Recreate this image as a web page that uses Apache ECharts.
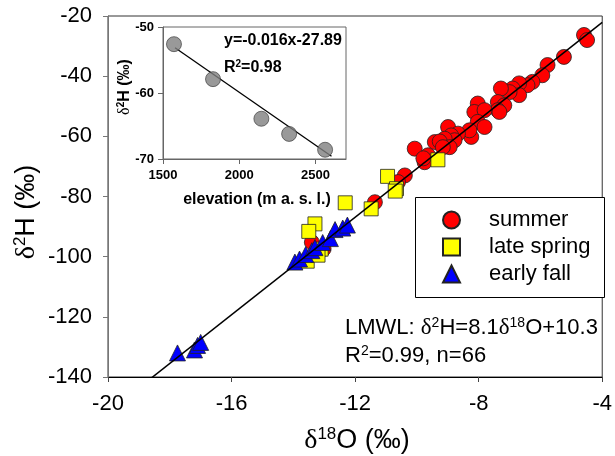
<!DOCTYPE html>
<html>
<head>
<meta charset="utf-8">
<script src="https://cdn.jsdelivr.net/npm/echarts@6/dist/echarts.min.js"></script>
<style>
  html, body { margin: 0; padding: 0; background: #fff; }
  #chart { width: 615px; height: 456px; }
</style>
</head>
<body>
<div id="chart"></div>
<script>
// δ18O / δ2H pairs (‰) by sampling season
const summer = [
  [-4.59, -26.3], [-4.49, -28.0], [-5.24, -33.6], [-5.77, -36.3], [-5.94, -39.7],
  [-6.26, -41.9], [-6.42, -43.0], [-6.69, -42.4], [-6.90, -44.1], [-6.69, -46.3],
  [-7.00, -45.3], [-7.28, -44.1], [-7.38, -48.6], [-7.17, -49.7], [-7.38, -51.3],
  [-7.33, -51.9], [-8.03, -49.1], [-8.14, -51.9], [-7.81, -51.3], [-8.03, -55.2],
  [-7.81, -56.9], [-8.24, -60.2], [-8.30, -58.0], [-8.99, -56.9], [-8.67, -59.1],
  [-8.89, -59.7], [-8.78, -61.3], [-9.42, -61.9], [-9.10, -60.8], [-9.26, -61.7],
  [-8.94, -63.6], [-9.16, -63.6], [-10.07, -64.1], [-9.64, -66.3], [-9.75, -68.6],
  [-9.79, -67.3], [-10.39, -73.0], [-10.61, -75.2], [-11.36, -81.9], [-13.40, -95.2],
  [-13.02, -97.4]
];
const lateSpring = [
  [-12.32, -82.1], [-11.48, -84.1], [-10.95, -73.3], [-10.66, -77.4], [-10.70, -78.2],
  [-9.32, -67.8], [-13.30, -89.1], [-13.50, -91.6], [-13.10, -97.5], [-13.55, -101.5],
  [-13.20, -99.5]
];
const earlyFall = [
  [-17.75, -132.0], [-17.20, -131.0], [-17.10, -129.5], [-17.00, -128.5],
  [-13.95, -101.8], [-13.80, -100.8], [-13.60, -99.3], [-13.40, -98.0], [-13.30, -97.0],
  [-13.05, -95.3], [-12.80, -94.0], [-12.65, -91.0], [-12.40, -90.5], [-12.25, -89.5]
];

// Local meteoric water line: δ2H = 8.1 δ18O + 10.3
const LMWL_SLOPE = 8.1;
const LMWL_INTERCEPT = 10.3;
const LMWL_DOMAIN = [-18.7, -4.0];

// Inset: δ2H against sampling elevation
const elevation = [1572, 1828, 2145, 2327, 2563];
const elevationD2H = [-52.6, -57.9, -63.9, -66.2, -68.6];
const ELEV_SLOPE = -0.016;
const ELEV_INTERCEPT = -27.89;
const ELEV_DOMAIN = [1579, 2605];
const elevationTicks = [1500, 2000, 2500];

const SANS = '"Liberation Sans", Arial, sans-serif';
const SERIF = '"Liberation Serif", "Times New Roman", serif';

const lmwlLine = LMWL_DOMAIN.map(x => [x, LMWL_SLOPE * x + LMWL_INTERCEPT]);
const elevLine = ELEV_DOMAIN.map(x => [x, ELEV_SLOPE * x + ELEV_INTERCEPT]);
const elevPoints = elevation.map((e, i) => [e, elevationD2H[i]]);

const chart = echarts.init(document.getElementById('chart'), null, { renderer: 'canvas' });

const markBorder = { borderColor: '#222', borderWidth: 0.8 };

chart.setOption({
  animation: false,
  backgroundColor: '#fff',
  textStyle: { fontFamily: SANS },
  grid: [
    { left: 108, top: 16, width: 497, height: 361, show: true, borderColor: '#333', borderWidth: 1, backgroundColor: 'transparent' },
    { left: 163, top: 27, width: 183, height: 132, show: true, borderColor: '#666', borderWidth: 1, backgroundColor: '#fff' }
  ],
  xAxis: [
    {
      gridIndex: 0, type: 'value', min: -20, max: -4, interval: 4,
      axisLine: { show: true, onZero: false, lineStyle: { color: '#000', width: 1 } },
      axisTick: { show: true, length: 5, lineStyle: { color: '#444' } },
      axisLabel: { fontSize: 22, color: '#000', margin: 16, fontFamily: SANS },
      splitLine: { show: false }
    },
    {
      gridIndex: 1, type: 'value', min: 1500, max: 2700, interval: 500,
      axisLine: { show: true, onZero: false, lineStyle: { color: '#666', width: 1 } },
      axisTick: { show: true, length: 5, customValues: elevationTicks, lineStyle: { color: '#666' } },
      axisLabel: {
        customValues: elevationTicks, fontSize: 13, fontWeight: 'bold', color: '#000', margin: 10, fontFamily: SANS,
        formatter: v => String(v)
      },
      splitLine: { show: false }
    }
  ],
  yAxis: [
    {
      gridIndex: 0, type: 'value', min: -140, max: -20, interval: 20,
      axisLine: { show: true, onZero: false, lineStyle: { color: '#777', width: 1 } },
      axisTick: { show: true, length: 5, lineStyle: { color: '#777' } },
      axisLabel: { fontSize: 22, color: '#000', margin: 16, fontFamily: SANS },
      splitLine: { show: false }
    },
    {
      gridIndex: 1, type: 'value', min: -70, max: -50, interval: 10,
      axisLine: { show: true, onZero: false, lineStyle: { color: '#666', width: 1 } },
      axisTick: { show: true, length: 5, lineStyle: { color: '#666' } },
      axisLabel: { fontSize: 13, fontWeight: 'bold', color: '#000', margin: 9, fontFamily: SANS },
      splitLine: { show: false }
    }
  ],
  legend: {
    data: ['summer', 'late spring', 'early fall'],
    orient: 'vertical',
    left: 442,
    top: 209,
    padding: 0,
    itemGap: 5,
    itemWidth: 17,
    itemHeight: 17,
    textStyle: { fontSize: 22, color: '#000', fontFamily: SANS, padding: [0, 0, 0, 24] }
  },
  series: [
    {
      name: 'summer', type: 'scatter', xAxisIndex: 0, yAxisIndex: 0,
      symbol: 'circle', symbolSize: 15, data: summer,
      itemStyle: Object.assign({ color: '#ff0000', opacity: 1 }, markBorder), z: 2
    },
    {
      name: 'late spring', type: 'scatter', xAxisIndex: 0, yAxisIndex: 0,
      symbol: 'rect', symbolSize: 14, data: lateSpring,
      itemStyle: Object.assign({ color: '#ffff00', opacity: 1 }, markBorder), z: 3
    },
    {
      name: 'early fall', type: 'scatter', xAxisIndex: 0, yAxisIndex: 0,
      symbol: 'triangle', symbolSize: 16, data: earlyFall,
      itemStyle: Object.assign({ color: '#0000ff', opacity: 1 }, markBorder), z: 4
    },
    {
      name: 'LMWL', type: 'line', xAxisIndex: 0, yAxisIndex: 0,
      data: lmwlLine, symbol: 'none', clip: true,
      lineStyle: { color: '#000', width: 1.5 }, z: 5, silent: true
    },
    {
      name: 'elevation', type: 'scatter', xAxisIndex: 1, yAxisIndex: 1,
      symbol: 'circle', symbolSize: 15, data: elevPoints,
      itemStyle: { color: '#808080', borderColor: '#333', borderWidth: 0.8 }, z: 6
    },
    {
      name: 'elevation fit', type: 'line', xAxisIndex: 1, yAxisIndex: 1,
      data: elevLine, symbol: 'none', clip: true,
      lineStyle: { color: '#000', width: 1.3 }, z: 5, silent: true
    }
  ],
  graphic: [
    // legend frame
    {
      type: 'rect', z: 1, silent: true,
      shape: { x: 415.5, y: 197.5, width: 189, height: 100 },
      style: { fill: '#fff', stroke: '#000', lineWidth: 1 }
    },
    // main x-axis title
    {
      type: 'text', x: 357, y: 441, silent: true,
      style: {
        text: '{d|δ}{s|18}{n|O (‰)}', align: 'center', verticalAlign: 'middle',
        rich: {
          d: { fontFamily: SERIF, fontSize: 28, lineHeight: 30, fill: '#000' },
          s: { fontFamily: SANS, fontSize: 17, verticalAlign: 'top', lineHeight: 18, fill: '#000' },
          n: { fontFamily: SANS, fontSize: 27, lineHeight: 30, fill: '#000' }
        }
      }
    },
    // main y-axis title
    {
      type: 'text', x: 27, y: 212, rotation: Math.PI / 2, silent: true,
      style: {
        text: '{d|δ}{s|2}{n|H (‰)}', align: 'center', verticalAlign: 'middle',
        rich: {
          d: { fontFamily: SERIF, fontSize: 28, lineHeight: 30, fill: '#000' },
          s: { fontFamily: SANS, fontSize: 17, verticalAlign: 'top', lineHeight: 18, fill: '#000' },
          n: { fontFamily: SANS, fontSize: 27, lineHeight: 30, fill: '#000' }
        }
      }
    },
    // LMWL equation
    {
      type: 'text', x: 345, y: 328, silent: true,
      style: {
        text: '{n|LMWL: }{d|δ}{s|2}{n|H=8.1}{d|δ}{s|18}{n|O+10.3}', align: 'left', verticalAlign: 'middle',
        rich: {
          d: { fontFamily: SERIF, fontSize: 23, lineHeight: 24, fill: '#000' },
          s: { fontFamily: SANS, fontSize: 14, verticalAlign: 'top', lineHeight: 14, fill: '#000' },
          n: { fontFamily: SANS, fontSize: 22, lineHeight: 24, fill: '#000' }
        }
      }
    },
    {
      type: 'text', x: 345, y: 356, silent: true,
      style: {
        text: '{n|R}{s|2}{n|=0.99, n=66}', align: 'left', verticalAlign: 'middle',
        rich: {
          s: { fontFamily: SANS, fontSize: 14, verticalAlign: 'top', lineHeight: 14, fill: '#000' },
          n: { fontFamily: SANS, fontSize: 22, lineHeight: 24, fill: '#000' }
        }
      }
    },
    // inset regression text
    {
      type: 'text', x: 224, y: 41, z: 10, silent: true,
      style: {
        text: 'y=-0.016x-27.89', align: 'left', verticalAlign: 'middle',
        fontFamily: SANS, fontSize: 16, fontWeight: 'bold', fill: '#000'
      }
    },
    {
      type: 'text', x: 224, y: 68, z: 10, silent: true,
      style: {
        text: '{n|R}{s|2}{n|=0.98}', align: 'left', verticalAlign: 'middle',
        rich: {
          s: { fontFamily: SANS, fontSize: 10, fontWeight: 'bold', verticalAlign: 'top', lineHeight: 10, fill: '#000' },
          n: { fontFamily: SANS, fontSize: 16, fontWeight: 'bold', lineHeight: 18, fill: '#000' }
        }
      }
    },
    // inset axis titles
    {
      type: 'text', x: 257, y: 200, z: 10, silent: true,
      style: {
        text: 'elevation (m a. s. l.)', align: 'center', verticalAlign: 'middle',
        fontFamily: SANS, fontSize: 16, fontWeight: 'bold', fill: '#000'
      }
    },
    {
      type: 'text', x: 125, y: 87, rotation: Math.PI / 2, z: 10, silent: true,
      style: {
        text: '{d|δ}{s|2}{n|H (‰)}', align: 'center', verticalAlign: 'middle',
        rich: {
          d: { fontFamily: SERIF, fontSize: 16, lineHeight: 18, fill: '#000' },
          s: { fontFamily: SANS, fontSize: 10, fontWeight: 'bold', verticalAlign: 'top', lineHeight: 10, fill: '#000' },
          n: { fontFamily: SANS, fontSize: 16, fontWeight: 'bold', lineHeight: 18, fill: '#000' }
        }
      }
    }
  ]
});
</script>
</body>
</html>
